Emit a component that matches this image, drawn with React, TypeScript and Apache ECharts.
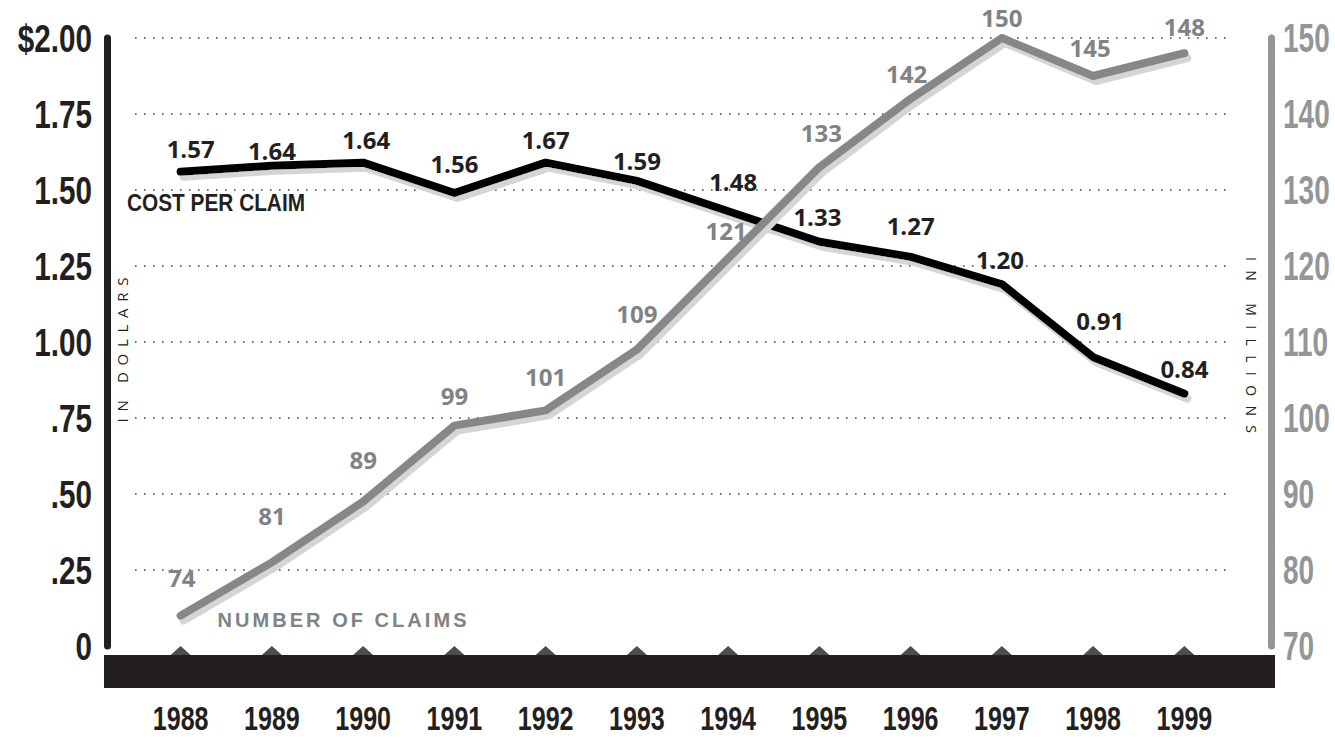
import React, { useEffect, useRef } from "react";
import * as echarts from "echarts";

// ---- data ----
const years = ["1988", "1989", "1990", "1991", "1992", "1993", "1994", "1995", "1996", "1997", "1998", "1999"];
// cost per claim, as the line is drawn in the picture (dollars)
const costPerClaim = [1.56, 1.58, 1.59, 1.49, 1.59, 1.53, 1.43, 1.33, 1.28, 1.19, 0.95, 0.83];
// cost per claim, as printed on the labels
const costLabels = ["1.57", "1.64", "1.64", "1.56", "1.67", "1.59", "1.48", "1.33", "1.27", "1.20", "0.91", "0.84"];
// number of claims (millions)
const claimsMillions = [74, 81, 89, 99, 101, 109, 121, 133, 142, 150, 145, 148];
// left axis tick labels (0 .. $2.00 every .25)
const dollarTicks = ["0", ".25", ".50", ".75", "1.00", "1.25", "1.50", "1.75", "$2.00"];
// right axis tick labels (millions)
const millionTicks = ["70", "80", "90", "100", "110", "120", "130", "140", "150"];

const INK = "#231f20";
const GREY_LINE = "#858789";
const GREY_TEXT = "#808285";
const GREY_AXIS = "#939598";
const SHADOW = "#d4d5d6";
const BOLD_SANS = '"Liberation Sans", Arial, sans-serif';
const LABEL_SANS = '"Open Sans", "Noto Sans", sans-serif';

export default function App() {
  const ref = useRef<HTMLDivElement>(null);

  useEffect(() => {
    if (!ref.current) return;
    const chart = echarts.init(ref.current, undefined, { renderer: "svg" });

    const costOffsets = [
      [10, -23], [0, -15], [3, -23], [0, -30], [0, -23], [0, -20],
      [5, -30], [-2, -25], [0, -31], [-2, -25], [7, -37], [0, -25],
    ];
    const claimOffsets = [
      [1, -38], [0, -47], [0, -42], [0, -30], [0, -34], [0, -36],
      [-2, -28], [2, -35], [-4, -25], [0, -21], [-3, -29], [0, -27],
    ];

    const option: any = {
      animation: false,
      backgroundColor: "#ffffff",
      grid: { left: 135, right: 105, top: 38, bottom: 92, outerBoundsMode: "none", containLabel: false },
      xAxis: {
        type: "category",
        data: years,
        boundaryGap: true,
        axisLine: { show: false },
        axisTick: { show: false },
        axisLabel: {
          interval: 0,
          hideOverlap: false,
          color: INK,
          fontFamily: BOLD_SANS,
          fontWeight: "bold",
          fontSize: 33,
          margin: 72,
          verticalAlign: "middle",
        },
      },
      yAxis: [
        {
          type: "value",
          min: 0,
          max: 2,
          interval: 0.25,
          position: "left",
          offset: 28,
          axisLine: { show: true, lineStyle: { color: INK, width: 7 } },
          axisTick: { show: false },
          axisLabel: {
            color: INK,
            fontFamily: BOLD_SANS,
            fontWeight: "bold",
            fontSize: 39,
            margin: 15,
            hideOverlap: false,
            formatter: (v: number) => dollarTicks[Math.round(v / 0.25)],
          },
          splitLine: {
            show: true,
            showMinLine: false,
            lineStyle: { color: "#4a4a4a", width: 1.6, type: [1.6, 7.4] },
          },
        },
        {
          type: "value",
          min: 70,
          max: 150,
          interval: 10,
          position: "right",
          offset: 41,
          axisLine: { show: true, lineStyle: { color: GREY_AXIS, width: 7 } },
          axisTick: { show: false },
          axisLabel: {
            color: GREY_AXIS,
            fontFamily: BOLD_SANS,
            fontWeight: "bold",
            fontSize: 28,
            align: "left",
            margin: 12,
            hideOverlap: false,
            formatter: (v: number) => millionTicks[Math.round((v - 70) / 10)],
          },
          splitLine: { show: false },
        },
      ],
      series: [
        {
          name: "Cost per claim",
          type: "line",
          yAxisIndex: 0,
          data: costPerClaim.map((v, i) => ({
            value: v,
            label: { offset: costOffsets[i], formatter: costLabels[i] },
          })),
          symbol: "circle",
          symbolSize: 2,
          showSymbol: true,
          itemStyle: { color: "rgba(0,0,0,0)" },
          lineStyle: {
            color: "#000000",
            width: 8,
            cap: "round",
            join: "round",
            shadowColor: SHADOW,
            shadowOffsetX: 3,
            shadowOffsetY: 5,
            shadowBlur: 0,
          },
          label: {
            show: true,
            position: "inside",
            color: INK,
            fontFamily: LABEL_SANS,
            fontWeight: "bold",
            fontSize: 24,
            lineHeight: 24,
          },
          z: 3,
        },
        {
          name: "Number of claims",
          type: "line",
          yAxisIndex: 1,
          data: claimsMillions.map((v, i) => ({
            value: v,
            label: { offset: claimOffsets[i] },
          })),
          symbol: "circle",
          symbolSize: 2,
          showSymbol: true,
          itemStyle: { color: "rgba(0,0,0,0)" },
          lineStyle: {
            color: GREY_LINE,
            width: 8,
            cap: "round",
            join: "round",
            shadowColor: SHADOW,
            shadowOffsetX: 3,
            shadowOffsetY: 5,
            shadowBlur: 0,
          },
          label: {
            show: true,
            position: "inside",
            color: GREY_TEXT,
            fontFamily: LABEL_SANS,
            fontWeight: "bold",
            fontSize: 24,
            lineHeight: 24,
          },
          z: 4,
        },
        {
          name: "ticks",
          type: "scatter",
          yAxisIndex: 0,
          data: years.map((y) => [y, 0]),
          symbol: "diamond",
          symbolSize: [20, 18],
          symbolOffset: [0, 9],
          itemStyle: { color: INK },
          silent: true,
          clip: false,
          z: 5,
        },
      ],
      graphic: [
        {
          type: "rect",
          left: 104,
          top: 655,
          shape: { width: 1171, height: 33 },
          style: { fill: INK },
          z: 6,
          silent: true,
        },
        {
          type: "text",
          x: 216,
          y: 203,
          style: {
            text: "COST PER CLAIM",
            fill: INK,
            font: 'bold 23px "Liberation Sans", Arial, sans-serif',
            align: "center",
            verticalAlign: "middle",
          },
          z: 10,
        },
        {
          type: "text",
          x: 342,
          y: 620,
          style: {
            text: "NUMBER OF CLAIMS",
            fill: GREY_TEXT,
            font: 'bold 20px "Liberation Sans", Arial, sans-serif',
            align: "center",
            verticalAlign: "middle",
          },
          z: 10,
        },
        {
          type: "text",
          x: 122,
          y: 350,
          rotation: Math.PI / 2,
          style: {
            text: "IN DOLLARS",
            fill: INK,
            font: '15px "Open Sans", "Noto Sans", sans-serif',
            align: "center",
            verticalAlign: "middle",
          },
          z: 10,
        },
        {
          type: "text",
          x: 1251,
          y: 345,
          rotation: -Math.PI / 2,
          style: {
            text: "IN MILLIONS",
            fill: INK,
            font: '14px "Open Sans", "Noto Sans", sans-serif',
            align: "center",
            verticalAlign: "middle",
          },
          z: 10,
        },
      ],
    };

    chart.setOption(option);

    // typographic fitting of rendered SVG texts (condensed numerals, tracked captions)
    const yearSet = new Set(years);
    const dollarSet = new Set(dollarTicks);
    const millionSet = new Set(millionTicks);
    const tracked: Record<string, [number, string]> = {
      "NUMBER OF CLAIMS": [249, "spacing"],
      "IN DOLLARS": [145, "spacing"],
      "IN MILLIONS": [176, "spacing"],
      "COST PER CLAIM": [178, "spacingAndGlyphs"],
    };
    const fit = () => {
      if (!ref.current) return;
      ref.current.querySelectorAll("text").forEach((node) => {
        const t = node as SVGTextElement;
        const s = (t.textContent || "").trim();
        let ow = parseFloat(t.getAttribute("data-ow") || "");
        if (isNaN(ow)) {
          ow = t.getComputedTextLength();
          t.setAttribute("data-ow", String(ow));
        }
        const size = parseFloat(window.getComputedStyle(t).fontSize || "0");
        let target = 0;
        let mode = "spacingAndGlyphs";
        if (tracked[s]) {
          target = tracked[s][0];
          mode = tracked[s][1];
        } else if (size >= 32 && size < 34 && yearSet.has(s)) {
          target = ow * 0.76;
        } else if (size >= 38 && size < 39.5 && dollarSet.has(s)) {
          target = ow * 0.76;
        } else if (size >= 27.5 && size < 28.5 && millionSet.has(s)) {
          // tall condensed numerals: stretch vertically about the label's centre
          if (!t.getAttribute("data-st")) {
            const bb = t.getBBox();
            const cy = bb.y + bb.height / 2;
            const old = t.getAttribute("transform") || "";
            t.setAttribute(
              "transform",
              `${old} translate(0 ${cy}) scale(1 1.42) translate(0 ${-cy})`.trim()
            );
            t.setAttribute("data-st", "1");
          }
        }
        if (target > 0) {
          t.setAttribute("textLength", String(target));
          t.setAttribute("lengthAdjust", mode);
        }
      });
    };
    fit();
    chart.on("finished", fit);
    const timer = setTimeout(fit, 50);

    return () => {
      clearTimeout(timer);
      chart.dispose();
    };
  }, []);

  return (
    <div
      ref={ref}
      style={{ position: "fixed", left: 0, top: 0, width: 1335, height: 738, background: "#fff" }}
    />
  );
}
